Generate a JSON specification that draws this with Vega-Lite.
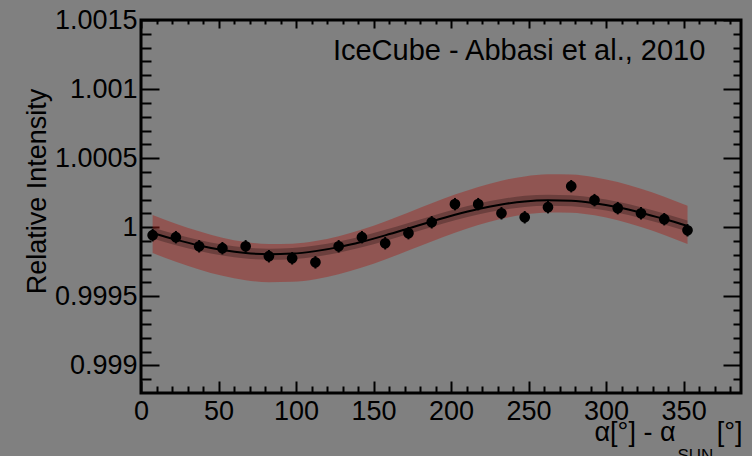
{
  "$schema": "https://vega.github.io/schema/vega-lite/v6.json",
  "width": 600,
  "height": 373,
  "autosize": "none",
  "padding": {"left": 141, "top": 20, "right": 11, "bottom": 63},
  "background": "#808080",
  "config": {
    "view": {"stroke": "#000000", "strokeWidth": 3},
    "font": "Liberation Sans",
    "axis": {
      "domain": false, "grid": false, "tickColor": "#000000", "tickWidth": 2,
      "labelColor": "#000000", "labelFont": "Liberation Sans", "labelFontSize": 27,
      "titleFont": "Liberation Sans", "titleFontSize": 27, "titleColor": "#000000", "titleFontWeight": "normal",
      "labelOverlap": false, "labelFlush": false
    }
  },
  "data": {"values": [
    {"x": 7.5, "y": 0.999942, "ylo": 0.999897, "yhi": 0.999987, "fit": 0.999958, "lo": 0.999813, "hi": 1.000089, "ilo": 0.999918, "ihi": 0.999998},
    {"x": 22.5, "y": 0.999928, "ylo": 0.999883, "yhi": 0.999973, "fit": 0.999910, "lo": 0.999750, "hi": 1.000026, "ilo": 0.999870, "ihi": 0.999950},
    {"x": 37.5, "y": 0.999862, "ylo": 0.999817, "yhi": 0.999907, "fit": 0.999868, "lo": 0.999694, "hi": 0.999970, "ilo": 0.999828, "ihi": 0.999908},
    {"x": 52.5, "y": 0.999848, "ylo": 0.999803, "yhi": 0.999893, "fit": 0.999835, "lo": 0.999648, "hi": 0.999924, "ilo": 0.999795, "ihi": 0.999875},
    {"x": 67.5, "y": 0.999862, "ylo": 0.999817, "yhi": 0.999907, "fit": 0.999813, "lo": 0.999617, "hi": 0.999893, "ilo": 0.999773, "ihi": 0.999853},
    {"x": 82.5, "y": 0.999790, "ylo": 0.999745, "yhi": 0.999835, "fit": 0.999805, "lo": 0.999602, "hi": 0.999878, "ilo": 0.999765, "ihi": 0.999845},
    {"x": 97.5, "y": 0.999775, "ylo": 0.999730, "yhi": 0.999820, "fit": 0.999809, "lo": 0.999605, "hi": 0.999881, "ilo": 0.999769, "ihi": 0.999849},
    {"x": 112.5, "y": 0.999746, "ylo": 0.999701, "yhi": 0.999791, "fit": 0.999827, "lo": 0.999624, "hi": 0.999900, "ilo": 0.999787, "ihi": 0.999867},
    {"x": 127.5, "y": 0.999862, "ylo": 0.999817, "yhi": 0.999907, "fit": 0.999856, "lo": 0.999659, "hi": 0.999935, "ilo": 0.999816, "ihi": 0.999896},
    {"x": 142.5, "y": 0.999928, "ylo": 0.999883, "yhi": 0.999973, "fit": 0.999895, "lo": 0.999708, "hi": 0.999984, "ilo": 0.999855, "ihi": 0.999935},
    {"x": 157.5, "y": 0.999884, "ylo": 0.999839, "yhi": 0.999929, "fit": 0.999941, "lo": 0.999766, "hi": 1.000042, "ilo": 0.999901, "ihi": 0.999981},
    {"x": 172.5, "y": 0.999957, "ylo": 0.999912, "yhi": 1.000002, "fit": 0.999991, "lo": 0.999831, "hi": 1.000107, "ilo": 0.999951, "ihi": 1.000031},
    {"x": 187.5, "y": 1.000036, "ylo": 0.999991, "yhi": 1.000081, "fit": 1.000042, "lo": 0.999897, "hi": 1.000173, "ilo": 1.000002, "ihi": 1.000082},
    {"x": 202.5, "y": 1.000167, "ylo": 1.000122, "yhi": 1.000212, "fit": 1.000090, "lo": 0.999960, "hi": 1.000236, "ilo": 1.000050, "ihi": 1.000130},
    {"x": 217.5, "y": 1.000167, "ylo": 1.000122, "yhi": 1.000212, "fit": 1.000132, "lo": 1.000016, "hi": 1.000292, "ilo": 1.000092, "ihi": 1.000172},
    {"x": 232.5, "y": 1.000101, "ylo": 1.000056, "yhi": 1.000146, "fit": 1.000165, "lo": 1.000061, "hi": 1.000337, "ilo": 1.000125, "ihi": 1.000205},
    {"x": 247.5, "y": 1.000072, "ylo": 1.000027, "yhi": 1.000117, "fit": 1.000187, "lo": 1.000092, "hi": 1.000368, "ilo": 1.000147, "ihi": 1.000227},
    {"x": 262.5, "y": 1.000145, "ylo": 1.000100, "yhi": 1.000190, "fit": 1.000195, "lo": 1.000107, "hi": 1.000383, "ilo": 1.000155, "ihi": 1.000235},
    {"x": 277.5, "y": 1.000297, "ylo": 1.000252, "yhi": 1.000342, "fit": 1.000191, "lo": 1.000105, "hi": 1.000381, "ilo": 1.000151, "ihi": 1.000231},
    {"x": 292.5, "y": 1.000196, "ylo": 1.000151, "yhi": 1.000241, "fit": 1.000173, "lo": 1.000086, "hi": 1.000362, "ilo": 1.000133, "ihi": 1.000213},
    {"x": 307.5, "y": 1.000138, "ylo": 1.000093, "yhi": 1.000183, "fit": 1.000144, "lo": 1.000051, "hi": 1.000327, "ilo": 1.000104, "ihi": 1.000184},
    {"x": 322.5, "y": 1.000101, "ylo": 1.000056, "yhi": 1.000146, "fit": 1.000105, "lo": 1.000002, "hi": 1.000278, "ilo": 1.000065, "ihi": 1.000145},
    {"x": 337.5, "y": 1.000058, "ylo": 1.000013, "yhi": 1.000103, "fit": 1.000059, "lo": 0.999944, "hi": 1.000220, "ilo": 1.000019, "ihi": 1.000099},
    {"x": 352.5, "y": 0.999978, "ylo": 0.999933, "yhi": 1.000023, "fit": 1.000009, "lo": 0.999879, "hi": 1.000155, "ilo": 0.999969, "ihi": 1.000049}
  ]},
  "resolve": {"axis": {"x": "independent", "y": "independent"}},
  "layer": [
    {
      "mark": {"type": "area", "color": "#a3221a", "opacity": 0.45, "interpolate": "monotone"},
      "encoding": {
        "x": {"field": "x", "type": "quantitative",
          "scale": {"domain": [0, 387], "nice": false, "zero": false},
          "axis": {"orient": "bottom", "values": [0, 50, 100, 150, 200, 250, 300, 350], "ticks": false,
            "labelPadding": 5, "format": "d",
            "title": "α[°] - α", "titleX": 534, "titleY": 47, "titleAlign": "right", "titleAnchor": null, "titleBaseline": "alphabetic"}},
        "y": {"field": "lo", "type": "quantitative",
          "scale": {"domain": [0.9988, 1.0015], "nice": false, "zero": false},
          "axis": {"orient": "left", "values": [0.999, 0.9995, 1, 1.0005, 1.001, 1.0015], "ticks": false,
            "labelPadding": 4, "format": "~g",
            "title": "Relative Intensity", "titleX": -96, "titleY": 171, "titleAngle": 270, "titleAlign": "center", "titleAnchor": null, "titleBaseline": "alphabetic"}},
        "y2": {"field": "hi"}
      }
    },
    {
      "mark": {"type": "area", "color": "#000000", "opacity": 0.25, "interpolate": "monotone"},
      "encoding": {
        "x": {"field": "x", "type": "quantitative",
          "scale": {"domain": [0, 387], "nice": false, "zero": false},
          "axis": {"orient": "bottom", "values": [10, 20, 30, 40, 60, 70, 80, 90, 110, 120, 130, 140, 160, 170, 180, 190, 210, 220, 230, 240, 260, 270, 280, 290, 310, 320, 330, 340, 360, 370, 380],
            "labels": false, "tickSize": 7, "offset": -7,
            "title": "SUN", "titleFontSize": 17, "titleX": 536, "titleY": 74, "titleAlign": "left", "titleAnchor": null, "titleBaseline": "alphabetic"}},
        "y": {"field": "ilo", "type": "quantitative",
          "scale": {"domain": [0.9988, 1.0015], "nice": false, "zero": false},
          "axis": {"orient": "left", "values": [0.9989, 0.9991, 0.9992, 0.9993, 0.9994, 0.9996, 0.9997, 0.9998, 0.9999, 1.0001, 1.0002, 1.0003, 1.0004, 1.0006, 1.0007, 1.0008, 1.0009, 1.0011, 1.0012, 1.0013, 1.0014],
            "labels": false, "tickSize": 10, "offset": -10, "title": null}},
        "y2": {"field": "ihi"}
      }
    },
    {
      "mark": {"type": "line", "color": "#000000", "strokeWidth": 2, "interpolate": "monotone"},
      "encoding": {
        "x": {"field": "x", "type": "quantitative",
          "scale": {"domain": [0, 387], "nice": false, "zero": false},
          "axis": {"orient": "bottom", "values": [0, 50, 100, 150, 200, 250, 300, 350], "labels": false, "tickSize": 12, "offset": -12, "title": null}},
        "y": {"field": "fit", "type": "quantitative",
          "scale": {"domain": [0.9988, 1.0015], "nice": false, "zero": false},
          "axis": {"orient": "left", "values": [0.999, 0.9995, 1, 1.0005, 1.001, 1.0015], "labels": false, "tickSize": 18, "offset": -18, "title": null}}
      }
    },
    {
      "mark": {"type": "rule", "color": "#000000", "strokeWidth": 2},
      "encoding": {
        "x": {"field": "x", "type": "quantitative",
          "scale": {"domain": [0, 387], "nice": false, "zero": false},
          "axis": {"orient": "top", "values": [0, 50, 100, 150, 200, 250, 300, 350], "labels": false, "tickSize": 8, "offset": -8, "title": null}},
        "y": {"field": "ylo", "type": "quantitative",
          "scale": {"domain": [0.9988, 1.0015], "nice": false, "zero": false},
          "axis": {"orient": "right", "values": [0.999, 0.9995, 1, 1.0005, 1.001, 1.0015], "labels": false, "tickSize": 18, "offset": -18, "title": null}},
        "y2": {"field": "yhi"}
      }
    },
    {
      "mark": {"type": "circle", "color": "#000000", "opacity": 1, "size": 115},
      "encoding": {
        "x": {"field": "x", "type": "quantitative",
          "scale": {"domain": [0, 387], "nice": false, "zero": false},
          "axis": {"orient": "top", "values": [10, 20, 30, 40, 60, 70, 80, 90, 110, 120, 130, 140, 160, 170, 180, 190, 210, 220, 230, 240, 260, 270, 280, 290, 310, 320, 330, 340, 360, 370, 380],
            "labels": false, "tickSize": 4, "offset": -4,
            "title": "[°]", "titleX": 601, "titleY": 416, "titleAlign": "right", "titleAnchor": null, "titleBaseline": "alphabetic"}},
        "y": {"field": "y", "type": "quantitative",
          "scale": {"domain": [0.9988, 1.0015], "nice": false, "zero": false},
          "axis": {"orient": "right", "values": [0.9989, 0.9991, 0.9992, 0.9993, 0.9994, 0.9996, 0.9997, 0.9998, 0.9999, 1.0001, 1.0002, 1.0003, 1.0004, 1.0006, 1.0007, 1.0008, 1.0009, 1.0011, 1.0012, 1.0013, 1.0014],
            "labels": false, "tickSize": 8, "offset": -8, "title": null}}
      }
    },
    {
      "data": {"values": [{"label": "IceCube - Abbasi et al., 2010", "tx": 364, "ty": 1.00121}]},
      "mark": {"type": "text", "align": "right", "baseline": "alphabetic", "fontSize": 29, "font": "Liberation Sans", "color": "#000000"},
      "encoding": {
        "x": {"field": "tx", "type": "quantitative", "scale": {"domain": [0, 387], "nice": false, "zero": false}, "axis": null},
        "y": {"field": "ty", "type": "quantitative", "scale": {"domain": [0.9988, 1.0015], "nice": false, "zero": false}, "axis": null},
        "text": {"field": "label"}
      }
    }
  ]
}
